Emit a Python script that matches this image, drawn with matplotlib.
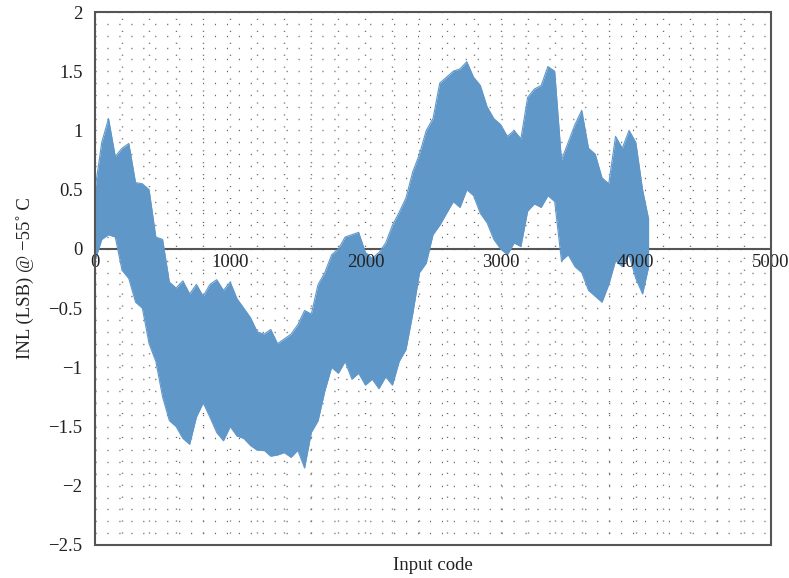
import matplotlib
matplotlib.use('Agg')
import matplotlib.pyplot as plt
from matplotlib.ticker import MultipleLocator, FuncFormatter
from matplotlib.patches import Rectangle

plt.rcParams['font.family'] = ['Liberation Serif', 'DejaVu Serif']

# input code samples (every 50 codes) and the INL band
codes = list(range(0, 4096, 50)) + [4095]

inl_hi = [0.50, 0.90, 1.10, 0.78, 0.85, 0.89, 0.56, 0.55, 0.50, 0.10,
          0.08, -0.28, -0.33, -0.27, -0.38, -0.30, -0.40, -0.30, -0.26, -0.35,
          -0.28, -0.42, -0.50, -0.58, -0.70, -0.72, -0.68, -0.80, -0.76, -0.72,
          -0.64, -0.52, -0.55, -0.30, -0.20, -0.05, 0.00, 0.10, 0.12, 0.14,
          -0.03, -0.08, -0.03, 0.05, 0.20, 0.31, 0.43, 0.65, 0.80, 1.00,
          1.10, 1.40, 1.45, 1.50, 1.52, 1.58, 1.45, 1.38, 1.20, 1.10,
          1.05, 0.95, 1.00, 0.93, 1.28, 1.35, 1.38, 1.54, 1.50, 0.75,
          0.90, 1.05, 1.17, 0.85, 0.80, 0.60, 0.55, 0.95, 0.85, 1.00,
          0.90, 0.50, 0.25]

inl_lo = [-0.10, 0.08, 0.12, 0.10, -0.18, -0.25, -0.45, -0.50, -0.80, -0.95,
          -1.25, -1.45, -1.50, -1.60, -1.65, -1.42, -1.30, -1.42, -1.55, -1.62,
          -1.50, -1.58, -1.60, -1.66, -1.70, -1.70, -1.75, -1.74, -1.72, -1.76,
          -1.70, -1.85, -1.55, -1.45, -1.20, -1.00, -1.05, -0.95, -1.10, -1.05,
          -1.15, -1.10, -1.18, -1.08, -1.15, -0.95, -0.85, -0.55, -0.20, -0.12,
          0.12, 0.20, 0.30, 0.40, 0.35, 0.50, 0.45, 0.30, 0.22, 0.08,
          0.00, -0.05, 0.05, 0.02, 0.32, 0.38, 0.35, 0.45, 0.40, -0.10,
          -0.05, -0.15, -0.20, -0.35, -0.40, -0.45, -0.30, -0.10, -0.15, -0.05,
          -0.25, -0.38, -0.15]

blue = '#6097c9'
frame = '#555555'
txt = '#222222'
rect = [0.1204, 0.0571, 0.8568, 0.9221]

fig = plt.figure(figsize=(7.89, 5.78), dpi=100)

# dotted grid and the zero line on their own axes underneath
gax = fig.add_axes(rect, zorder=0)
gax.set_xlim(0, 5000)
gax.set_ylim(-2.5, 2)
gax.xaxis.set_major_locator(MultipleLocator(1000))
gax.xaxis.set_minor_locator(MultipleLocator(200))
gax.yaxis.set_major_locator(MultipleLocator(0.5))
gax.yaxis.set_minor_locator(MultipleLocator(0.1))
gax.grid(True, which='both', color='#666666', lw=1.0, linestyle=(0, (0.8, 7.8)))
gax.axhline(0, color=frame, lw=1.5)
gax.tick_params(which='both', length=0, labelbottom=False, labelleft=False)
for s in gax.spines.values():
    s.set_visible(False)

ax = fig.add_axes(rect, zorder=1)
ax.patch.set_alpha(0)
ax.fill_between(codes, inl_lo, inl_hi, color=blue, lw=0)
ax.plot(codes, inl_hi, color=blue, lw=0.8)
ax.plot(codes, inl_lo, color=blue, lw=0.8)

ax.set_xlim(0, 5000)
ax.set_ylim(-2.5, 2)
ax.xaxis.set_major_locator(MultipleLocator(1000))
ax.yaxis.set_major_locator(MultipleLocator(0.5))
fmt = FuncFormatter(lambda v, p: '{:g}'.format(v).replace('-', '\u2212'))
ax.yaxis.set_major_formatter(fmt)
ax.xaxis.set_major_formatter(fmt)
ax.set_axisbelow(False)

for s in ['top', 'right', 'left']:
    ax.spines[s].set_visible(False)
# x tick labels sit along the zero line
ax.spines['bottom'].set_position(('data', 0))
ax.spines['bottom'].set_color('none')
ax.add_patch(Rectangle((0, 0), 1, 1, transform=ax.transAxes, fill=False,
                       ec=frame, lw=1.5, clip_on=False, zorder=5))

ax.tick_params(axis='both', which='both', length=0, labelsize=13.5, colors=txt)
ax.tick_params(axis='x', pad=4)
ax.tick_params(axis='y', pad=9)

ax.set_xlabel('Input code', fontsize=13.5, color=txt)
ax.xaxis.set_label_coords(0.5, -0.022)
ax.set_ylabel('INL (LSB) @ \u221255\u02da C', fontsize=13.5, color=txt)
ax.yaxis.set_label_coords(-0.09, 0.5)

fig.savefig('out.png', dpi=100)
